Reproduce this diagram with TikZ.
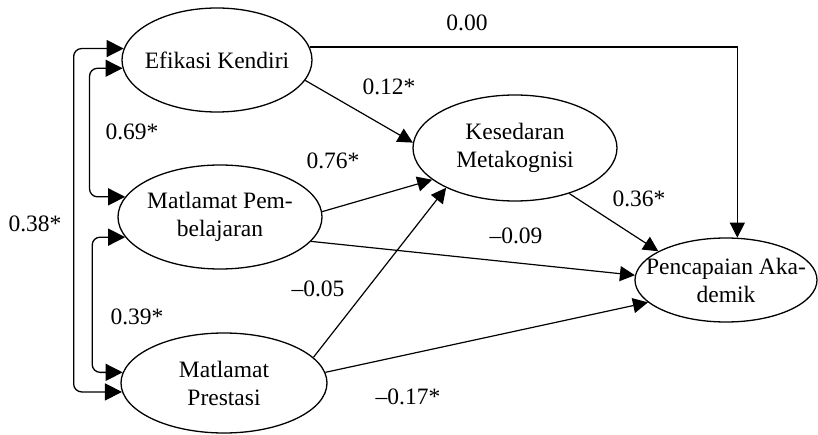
\documentclass[tikz,border=0pt]{standalone}
\usepackage{fontspec}
\setmainfont{Liberation Serif}
\usetikzlibrary{arrows.meta,shapes.geometric,calc}
\begin{document}
\begin{tikzpicture}[x=1pt,y=-1pt,
  lat/.style={ellipse,draw,line width=1.3pt,inner sep=0pt},
  txt/.style={align=center,inner sep=0pt,font=\fontsize{23.5}{28}\selectfont},
  reg/.style={line width=1.2pt,-{Triangle[length=15pt,width=15pt]}},
  cov/.style={line width=1.3pt,rounded corners=8pt,{Triangle[length=17pt,width=17pt]}-{Triangle[length=17pt,width=17pt]}},
  lbl/.style={font=\fontsize{23.5}{28}\selectfont,inner sep=0pt}]
\useasboundingbox (0,0) rectangle (818,435);

% latent variables
\node[lat,minimum width=190pt,minimum height=104pt] (ek) at (217,60) {};
\node[txt] (ekt) at (ek.center) {Efikasi Kendiri};
\node[lat,minimum width=204pt,minimum height=104pt] (mp) at (220,217) {};
\node[txt] (mpt) at (mp.center) {Matlamat Pem-\\belajaran};
\node[lat,minimum width=206pt,minimum height=100pt] (mpr) at (224,383) {};
\node[txt] (mprt) at (mpr.center) {Matlamat\\Prestasi};
\node[lat,minimum width=204pt,minimum height=106pt] (km) at (515,148) {};
\node[txt] (kmt) at (km.center) {Kesedaran\\Metakognisi};
\node[lat,minimum width=182pt,minimum height=84pt] (pa) at (726,280) {};
\node[txt] (pat) at (pa.center) {Pencapaian Aka-\\demik};

% regression paths
\draw[reg] (ek.8) -| (pa.75);
\draw[reg] (ek.-13) -- (km.177);
\draw[reg] (mp.3) -- (km.201);
\draw[reg] (mpr.16) -- (km.210);
\draw[reg] (mp.-15) -- (pa.177);
\draw[reg] (mpr.6) -- (pa.196);
\draw[reg] (km.-40) -- (pa.157);

% covariances
\draw[cov] (ek.173) -- ++(-50,0) |- (mpr.185);
\draw[cov] (ek.185) -- ++(-33,0) |- (mp.168);
\draw[cov] (mp.192) -- ++(-33,0) |- (mpr.174);

% labels
\node[lbl] (l1) at (467,23) {0.00};
\node[lbl] (l2) at (389,87) {0.12*};
\node[lbl] (l3) at (132,132) {0.69*};
\node[lbl] (l4) at (333,161) {0.76*};
\node[lbl] (l5) at (35,224) {0.38*};
\node[lbl] (l6) at (639,199) {0.36*};
\node[lbl] (l7) at (516,236) {--0.09};
\node[lbl] (l8) at (318,289) {--0.05};
\node[lbl] (l9) at (137,317) {0.39*};
\node[lbl] (l10) at (408,397) {--0.17*};
\end{tikzpicture}
\end{document}
